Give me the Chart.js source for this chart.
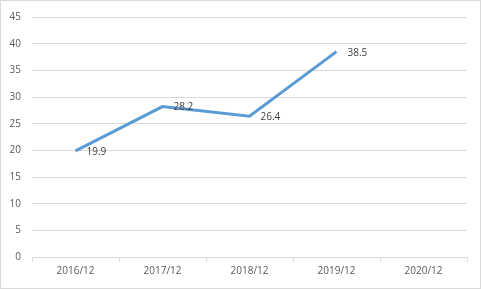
<!DOCTYPE html>
<html>
<head>
<meta charset="utf-8">
<script src="https://cdn.jsdelivr.net/npm/chart.js@4"></script>
<style>
html,body{margin:0;padding:0;background:#fff;}
#wrap{width:481px;height:289px;}
</style>
</head>
<body>
<div id="wrap"><canvas id="c" width="481" height="289"></canvas></div>
<script>
const categories = ["2016/12","2017/12","2018/12","2019/12","2020/12"];
const values = [19.9, 28.2, 26.4, 38.5, null];
const yTicks = [0,5,10,15,20,25,30,35,40,45];

const borderPlugin = {
  id:'outerBorder',
  afterDraw(chart){
    const ctx = chart.ctx;
    ctx.save();
    ctx.strokeStyle = '#d9d9d9';
    ctx.lineWidth = 1;
    ctx.strokeRect(0.5,0.5,chart.width-1,chart.height-1);
    ctx.restore();
  }
};
const labelPlugin = {
  id:'dataLabels',
  afterDatasetsDraw(chart){
    const ctx = chart.ctx;
    const meta = chart.getDatasetMeta(0);
    ctx.save();
    ctx.font = '10px "Open Sans", "Liberation Sans", sans-serif';
    ctx.fillStyle = '#404040';
    ctx.textAlign = 'left';
    ctx.textBaseline = 'middle';
    meta.data.forEach((pt,i)=>{
      const v = values[i];
      if(v===null || v===undefined) return;
      ctx.fillText(v.toFixed(1), pt.x+11, pt.y+1);
    });
    ctx.restore();
  }
};

new Chart(document.getElementById('c'), {
  type:'line',
  data:{
    labels:categories,
    datasets:[{
      data:values,
      borderColor:'#5b9bd5',
      borderWidth:3,
      pointRadius:0,
      pointHoverRadius:0,
      tension:0,
      fill:false,
      spanGaps:false
    }]
  },
  options:{
    responsive:false,
    animation:false,
    devicePixelRatio:1,
    layout:{padding:{left:0,right:14,top:15,bottom:0}},
    plugins:{legend:{display:false},tooltip:{enabled:false}},
    scales:{
      x:{
        offset:true,
        grid:{offset:true,drawOnChartArea:false,drawTicks:true,tickLength:5,color:'#d9d9d9'},
        border:{display:true,color:'#d9d9d9'},
        ticks:{color:'#595959',font:{family:'"Open Sans", "Liberation Sans", sans-serif',size:10},padding:3,maxRotation:0},
        afterFit(s){s.height=32;}
      },
      y:{
        min:0,max:45,
        afterBuildTicks(s){s.ticks = yTicks.map(v=>({value:v}));},
        grid:{color:'#d9d9d9',drawTicks:false},
        border:{display:false},
        ticks:{color:'#595959',font:{family:'"Open Sans", "Liberation Sans", sans-serif',size:10},padding:11},
        afterFit(s){s.width=32;}
      }
    }
  },
  plugins:[borderPlugin,labelPlugin]
});
</script>
</body>
</html>
